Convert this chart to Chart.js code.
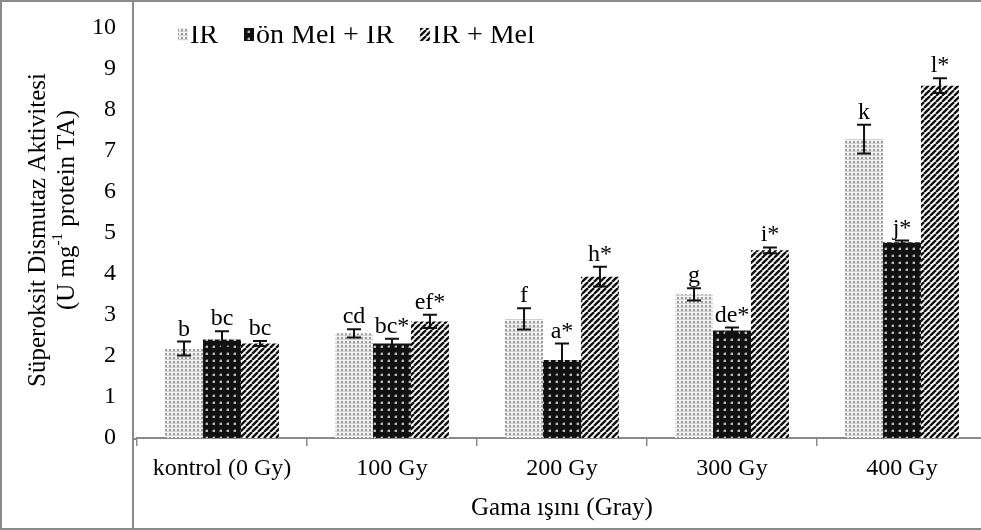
<!DOCTYPE html>
<html>
<head>
<meta charset="utf-8">
<script src="https://cdn.jsdelivr.net/npm/chart.js@4.4.1/dist/chart.umd.min.js"></script>
<style>
  html, body { margin: 0; padding: 0; background: #fff; overflow: hidden; }
  canvas { display: block; }
</style>
</head>
<body>
<!-- slightly wider than the window: the right edge of the frame is cut off, as in the original -->
<canvas id="sodChart" width="987" height="530"></canvas>
<script>
// Data
const categories = ['kontrol (0 Gy)', '100 Gy', '200 Gy', '300 Gy', '400 Gy'];
const seriesNames = ['IR', 'ön Mel + IR', 'IR + Mel'];

const irValues = [2.18, 2.55, 2.9, 3.5, 7.28];
const onMelValues = [2.4, 2.3, 1.9, 2.62, 4.77];
const irMelValues = [2.3, 2.84, 3.93, 4.57, 8.58];

const irErrors = [0.17, 0.1, 0.26, 0.15, 0.35];
const onMelErrors = [0.2, 0.12, 0.4, 0.07, 0.04];
const irMelErrors = [0.06, 0.16, 0.24, 0.07, 0.18];

const irLetters = ['b', 'cd', 'f', 'g', 'k'];
const onMelLetters = ['bc', 'bc*', 'a*', 'de*', 'j*'];
const irMelLetters = ['bc', 'ef*', 'h*', 'i*', 'l*'];

const yTicks = [0, 1, 2, 3, 4, 5, 6, 7, 8, 9, 10];

const FONT = 'Liberation Serif';

// Fill patterns
const makePattern = (size, paint) => {
    const c = document.createElement('canvas');
    c.width = size; c.height = size;
    const g = c.getContext('2d');
    paint(g, size);
    return g.createPattern(c, 'repeat');
};

const dotsLight = makePattern(4, (g) => {
    g.fillStyle = '#f4f4f4'; g.fillRect(0, 0, 4, 4);
    g.fillStyle = '#9a9a9a'; g.fillRect(1, 1, 2, 2);
    g.fillStyle = '#cfcfcf'; g.fillRect(0, 3, 4, 1);
});

const dotsDark = makePattern(7, (g) => {
    g.fillStyle = '#111'; g.fillRect(0, 0, 7, 7);
    g.fillStyle = '#bbb'; g.fillRect(3, 3, 2, 2);
    g.fillStyle = '#555'; g.fillRect(2, 3, 1, 2); g.fillRect(3, 2, 2, 1);
});

const stripes = makePattern(6, (g, s) => {
    g.fillStyle = '#fff'; g.fillRect(0, 0, s, s);
    g.strokeStyle = '#111'; g.lineWidth = 2.4;
    [-s, 0, s].forEach(o => {
        g.beginPath(); g.moveTo(o, s); g.lineTo(o + s, 0); g.stroke();
    });
});

// Error bars and significance letters
const errorBarsPlugin = {
    id: 'errorBars',
    afterDatasetsDraw(chart) {
        const { ctx, scales: { y } } = chart;
        ctx.save();
        chart.data.datasets.forEach((ds, i) => {
            const meta = chart.getDatasetMeta(i);
            meta.data.forEach((bar, j) => {
                const v = ds.data[j], e = ds.errors[j];
                const yTop = y.getPixelForValue(v + e);
                const yBot = y.getPixelForValue(v - e);
                ctx.strokeStyle = '#111';
                ctx.lineWidth = 2;
                ctx.beginPath();
                ctx.moveTo(bar.x, yTop); ctx.lineTo(bar.x, yBot);
                ctx.moveTo(bar.x - 7, yTop); ctx.lineTo(bar.x + 7, yTop);
                ctx.moveTo(bar.x - 7, yBot); ctx.lineTo(bar.x + 7, yBot);
                ctx.stroke();

                ctx.fillStyle = '#000';
                ctx.font = `24px "${FONT}"`;
                ctx.textAlign = 'center';
                ctx.textBaseline = 'alphabetic';
                ctx.fillText(ds.letters[j], bar.x, yTop - 6);
            });
        });
        ctx.restore();
    }
};

// Frame, full-height axis line, y title and legend
const decorPlugin = {
    id: 'decor',
    beforeDraw(chart) {
        const { ctx, width, height } = chart;
        ctx.save();
        ctx.fillStyle = '#fff';
        ctx.fillRect(0, 0, width, height);
        ctx.restore();
    },
    afterDraw(chart) {
        const { ctx, width, height, chartArea } = chart;
        ctx.save();
        ctx.strokeStyle = '#8a8a8a';
        ctx.lineWidth = 2;
        ctx.strokeRect(1, 1, width - 2, height - 2);
        ctx.beginPath();
        ctx.moveTo(133, 0);
        ctx.lineTo(133, height);
        ctx.moveTo(133, chartArea.bottom + 1);
        ctx.lineTo(chartArea.left, chartArea.bottom + 1);
        ctx.stroke();

        // y axis title (two lines, with superscript)
        ctx.fillStyle = '#000';
        ctx.textBaseline = 'middle';
        ctx.save();
        ctx.translate(38, 230);
        ctx.rotate(-Math.PI / 2);
        ctx.font = `25px "${FONT}"`;
        ctx.textAlign = 'center';
        ctx.fillText('Süperoksit Dismutaz Aktivitesi', 0, 0);
        ctx.restore();

        ctx.save();
        ctx.translate(67, 210);
        ctx.rotate(-Math.PI / 2);
        const parts = [['(U mg', 25, 0], ['-1', 15, -9], [' protein TA)', 25, 0]];
        let total = 0;
        parts.forEach(p => { ctx.font = `${p[1]}px "${FONT}"`; total += ctx.measureText(p[0]).width; });
        let x = -total / 2;
        ctx.textAlign = 'left';
        parts.forEach(p => {
            ctx.font = `${p[1]}px "${FONT}"`;
            ctx.fillText(p[0], x, p[2]);
            x += ctx.measureText(p[0]).width;
        });
        ctx.restore();

        // legend (its top is cut off in the original)
        ctx.save();
        ctx.beginPath();
        ctx.rect(140, 26, 500, 30);
        ctx.clip();
        ctx.font = `28px "${FONT}"`;
        ctx.textAlign = 'left';
        ctx.textBaseline = 'alphabetic';
        let lx = 178;
        const base = 43;
        chart.data.datasets.forEach(ds => {
            ctx.fillStyle = ds.backgroundColor;
            ctx.fillRect(lx, base - 15, 10, 13);
            ctx.fillStyle = '#000';
            ctx.fillText(ds.label, lx + 12, base);
            lx += 12 + ctx.measureText(ds.label).width + 26;
        });
        ctx.restore();
        ctx.restore();
    }
};

const makeDataset = (label, data, errors, letters, fill) => ({
    label, data, errors, letters,
    backgroundColor: fill,
    borderWidth: 0,
    categoryPercentage: 0.67,
    barPercentage: 1.0
});

new Chart(document.getElementById('sodChart'), {
    type: 'bar',
    data: {
        labels: categories,
        datasets: [
            makeDataset(seriesNames[0], irValues, irErrors, irLetters, dotsLight),
            makeDataset(seriesNames[1], onMelValues, onMelErrors, onMelLetters, dotsDark),
            makeDataset(seriesNames[2], irMelValues, irMelErrors, irMelLetters, stripes)
        ]
    },
    options: {
        responsive: false,
        animation: false,
        devicePixelRatio: 1,
        layout: { padding: { top: 16, right: 0, left: 0, bottom: 0 } },
        plugins: { legend: { display: false }, tooltip: { enabled: false } },
        scales: {
            x: {
                grid: { offset: true, drawOnChartArea: false, tickLength: 8, color: '#8a8a8a', lineWidth: 1.5 },
                border: { color: '#8a8a8a', width: 2 },
                ticks: { color: '#000', font: { family: FONT, size: 24 }, padding: 8 },
                title: {
                    display: true, text: 'Gama ışını (Gray)', color: '#000',
                    font: { family: FONT, size: 25 }, padding: { top: 0, bottom: 7 }
                },
                afterFit: (s) => { s.height = 92; }
            },
            y: {
                min: yTicks[0],
                max: yTicks[yTicks.length - 1],
                afterBuildTicks: (s) => { s.ticks = yTicks.map(v => ({ value: v })); },
                grid: { display: false },
                border: { display: false },
                ticks: { color: '#000', font: { family: FONT, size: 24 }, padding: 13 },
                afterFit: (s) => { s.width = 137; }
            }
        }
    },
    plugins: [decorPlugin, errorBarsPlugin]
});
</script>
</body>
</html>
